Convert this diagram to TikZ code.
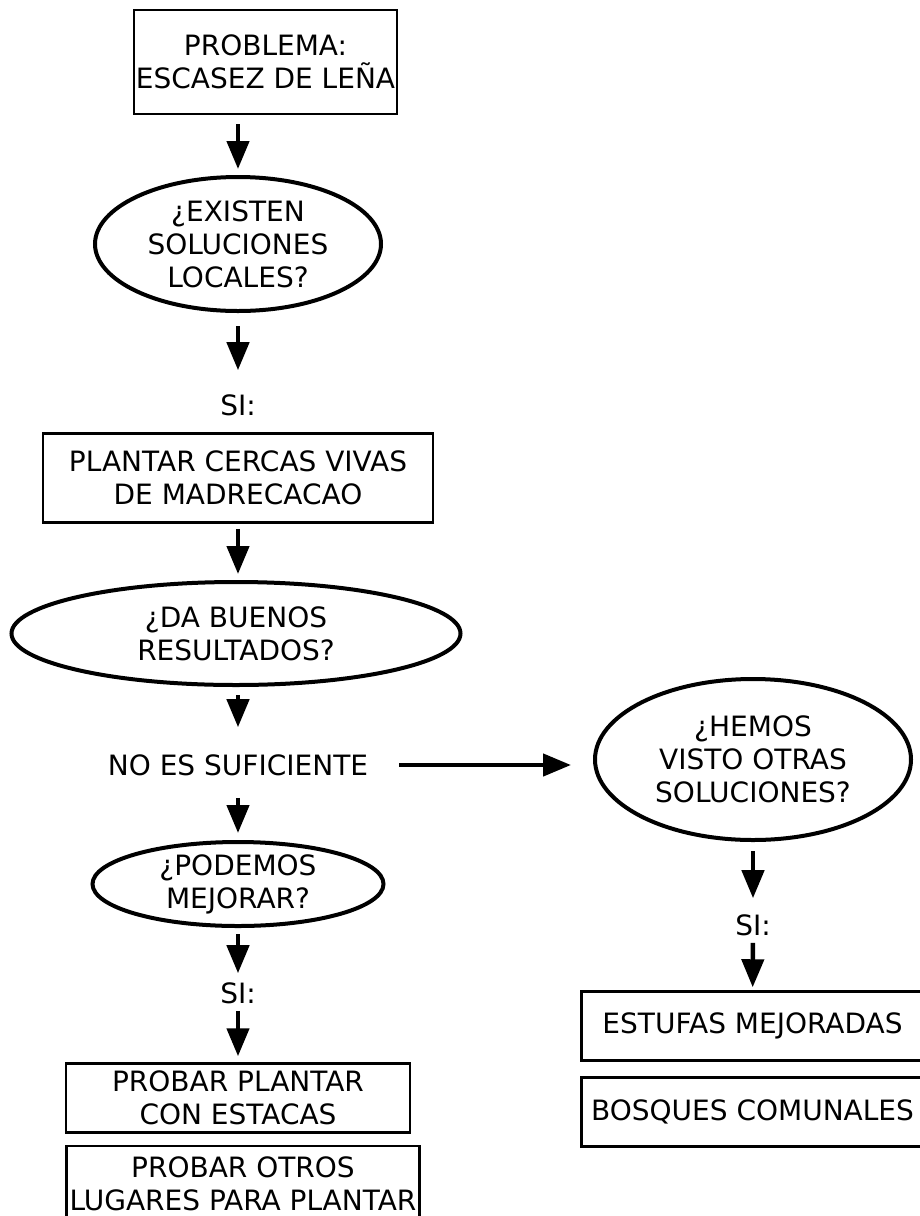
\documentclass[tikz,border=0pt]{standalone}
\usepackage{fontspec}
\setmainfont{DejaVu Sans}
\usepackage{tikz}
\usetikzlibrary{shapes.geometric, arrows.meta, positioning}

\begin{document}
\begin{tikzpicture}[
        x=1pt, y=-1pt,
        every node/.style={font=\fontsize{28}{33}\selectfont},
        box/.style={
            rectangle,
            draw,
            line width=2.5pt,
            inner sep=0pt,
            align=center
        },
        question/.style={
            ellipse,
            draw,
            line width=4pt,
            inner sep=0pt,
            align=center
        },
        answer/.style={
            inner sep=0pt,
            align=center
        },
        arrow/.style={-{Triangle[length=28pt, width=22pt]}, line width=4.5pt}
    ]

    \useasboundingbox (0,0) rectangle (919,1216);

    % left column
    \node (problema)  [box, minimum width=263, minimum height=104] at (265.5,62) {PROBLEMA:\\ESCASEZ DE LEÑA};
    \node (existen)   [question, minimum width=286, minimum height=134] at (238,244) {¿EXISTEN\\SOLUCIONES\\LOCALES?};
    \node (si1)       [answer] at (238,405) {SI:};
    \node (cercas)    [box, minimum width=390, minimum height=89] at (238,478) {PLANTAR CERCAS VIVAS\\DE MADRECACAO};
    \node (buenos)    [question, minimum width=449, minimum height=103] at (236,633.5) {¿DA BUENOS\\RESULTADOS?};
    \node (nosuf)     [answer] at (238,765) {NO ES SUFICIENTE};
    \node (mejorar)   [question, minimum width=291, minimum height=84, inner ysep=-4pt] at (238,884) {¿PODEMOS\\MEJORAR?};
    \node (si2)       [answer] at (238,993) {SI:};
    \node (estacas)   [box, minimum width=344, minimum height=69] at (238,1098) {PROBAR PLANTAR\\CON ESTACAS};
    \node (lugares)   [box, minimum width=353, minimum height=76] at (243,1184) {PROBAR OTROS\\LUGARES PARA PLANTAR};

    % right column
    \node (otras)     [question, minimum width=316, minimum height=161] at (753,759.5) {¿HEMOS\\VISTO OTRAS\\SOLUCIONES?};
    \node (si3)       [answer] at (753,925) {SI:};
    \node (estufas)   [box, minimum width=342, minimum height=69] at (752.5,1026) {ESTUFAS MEJORADAS};
    \node (bosques)   [box, minimum width=342, minimum height=69] at (752.5,1112) {BOSQUES COMUNALES};

    \draw [arrow, shorten <=9pt, shorten >=6pt] (problema.south -| existen.north) -- (existen.north);
    \draw [arrow, shorten <=13pt, shorten >=24pt] (existen) -- (si1);
    \draw [arrow, shorten <=5pt, shorten >=6pt] (cercas.south) -- (buenos.north -| cercas.south);
    \draw [arrow, shorten <=8pt, shorten >=27pt] (buenos.south -| nosuf.north) -- (nosuf.north);
    \draw [arrow, shorten <=22pt, shorten >=7pt] (nosuf) -- (mejorar);
    \draw [arrow, shorten <=6pt, shorten >=9pt] (mejorar) -- (si2);
    \draw [arrow, shorten <=7pt, shorten >=6pt] (si2) -- (estacas);
    \draw [arrow, shorten <=31pt, shorten >=22pt] (nosuf.east) -- (nosuf.east -| otras.west);
    \draw [arrow, shorten <=9pt, shorten >=16pt] (otras) -- (si3);
    \draw [arrow, shorten <=7pt, shorten >=3pt] (si3) -- (estufas);

\end{tikzpicture}
\end{document}
